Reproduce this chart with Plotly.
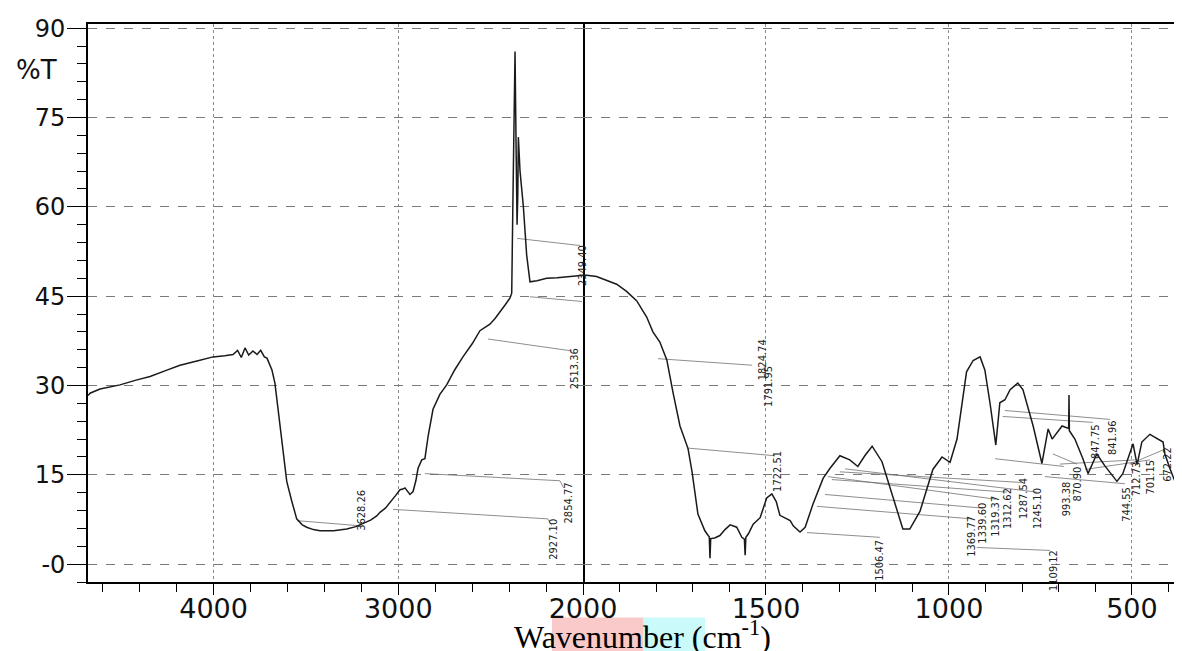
import plotly.graph_objects as go

# ---------------- spectrum data (wavenumber cm-1, %T) ----------------
wn_left = [4680, 4669, 4615, 4507, 4420, 4344, 4260, 4182, 4090, 4003, 3940, 3895, 3870, 3850,
           3830, 3810, 3787, 3765, 3745, 3725, 3711, 3700, 3690, 3684, 3668, 3655, 3641, 3623,
           3604, 3577, 3550, 3520, 3496, 3460, 3424, 3350, 3279, 3230, 3191, 3150, 3117, 3099,
           3070, 3045, 3015, 2991, 2975, 2964, 2950, 2937, 2920, 2905, 2893, 2873, 2856, 2838,
           2812, 2775, 2738, 2695, 2650, 2600, 2558, 2530, 2504, 2475, 2449, 2420, 2395, 2386,
           2379, 2368, 2363, 2357, 2353, 2350, 2341, 2323, 2305, 2287, 2249, 2197, 2140, 2088,
           2040, 2000]
t_left = [28.3, 28.7, 29.4, 30.1, 30.9, 31.5, 32.5, 33.4, 34.1, 34.8, 35.0, 35.2, 35.9, 34.7,
          36.3, 35.1, 35.8, 35.2, 35.9, 34.8, 34.6, 33.8, 33.0, 32.6, 30.4, 27.0, 23.8, 18.3,
          13.9, 10.6, 7.6, 6.6, 6.2, 5.8, 5.6, 5.6, 5.9, 6.3, 6.8, 7.4, 8.1, 8.7,
          9.4, 10.3, 11.5, 12.5, 12.6, 12.8, 12.2, 11.7, 12.2, 14.0, 16.1, 17.5, 17.7, 21.6,
          26.0, 28.5, 30.1, 32.6, 34.8, 37.0, 39.2, 39.8, 40.3, 41.3, 42.3, 43.6, 44.7, 45.5,
          62.0, 86.1, 72.0, 57.0, 62.0, 71.7, 66.0, 60.1, 51.9, 47.4, 47.6, 48.0, 48.1, 48.3,
          48.4, 48.5]

wn_right = [2000, 1990, 1963, 1935, 1908, 1881, 1853, 1826, 1809, 1790, 1771, 1753, 1735, 1713,
            1702, 1686, 1667, 1658, 1655, 1653, 1651, 1640, 1626, 1612, 1598, 1580, 1566, 1559,
            1557, 1555, 1548, 1535, 1516, 1498, 1484, 1472, 1462, 1434, 1425, 1407, 1393, 1372,
            1344, 1325, 1298, 1271, 1249, 1230, 1210, 1183, 1156, 1126, 1107, 1079, 1044, 1019,
            997, 978, 952, 934, 915, 902, 888, 872, 861, 847, 833, 812, 798, 770, 746, 729, 718,
            691, 673, 672, 671, 656, 634, 620, 596, 574, 541, 525, 497, 486, 473, 451, 415, 410,
            396, 380, 374]
t_right = [48.5, 48.5, 48.3, 47.7, 47.0, 45.8, 44.2, 41.5, 39.0, 37.3, 34.3, 28.5, 23.2, 19.4,
           15.5, 8.4, 5.6, 4.8, 4.6, 1.0, 4.3, 4.4, 4.8, 5.8, 6.6, 6.2, 4.5, 4.2,
           1.5, 4.5, 5.1, 6.7, 7.8, 11.1, 11.8, 10.5, 8.2, 7.3, 6.4, 5.4, 6.2, 10.0,
           14.4, 16.1, 18.2, 17.5, 16.4, 18.2, 19.8, 17.2, 11.7, 5.9, 5.9, 8.9, 15.9, 18.0,
           17.1, 21.0, 32.3, 34.2, 34.8, 32.6, 27.1, 20.0, 27.1, 27.6, 29.3, 30.4, 29.3, 23.2,
           16.9, 22.7, 21.0, 23.2, 22.8, 28.4, 22.4, 21.0, 17.7, 15.2, 18.5, 16.5, 13.9, 15.2,
           20.2, 16.7, 20.5, 21.8, 20.5, 18.5, 16.0, 13.5, 13.0]

# ---------------- peak labels ----------------
lab_left_text = ["3628.26", "2927.10", "2854.77", "2513.36", "2349.40"]
lab_left_wn = [3197, 2157, 2081, 2049, 2006]
lab_left_t = [9.1, 4.1, 10.2, 32.9, 50.2]

lab_right_text = ["1824.74", "1791.95", "1722.51", "1506.47", "1369.77", "1339.60", "1319.37",
                  "1312.62", "1287.54", "1245.10", "1109.12", "993.38", "870.90", "847.75",
                  "841.96", "744.55", "712.73", "701.15", "672.22"]
lab_right_wn = [1511, 1495, 1467, 1189, 937, 907, 872, 842, 798, 760, 716, 680, 650, 601, 555,
                514, 489, 448, 405]
lab_right_t = [34.4, 29.9, 15.5, 0.7, 4.6, 6.8, 8.1, 9.4, 11.1, 9.4, -1.0, 10.9, 13.4, 20.5,
               21.3, 10.1, 14.4, 14.7, 16.8]

# leader lines (segments separated by None)
lead_left_wn = [3548, 3191, None, 3029, 2190, 2170, None, 2856, 2125, 2105, None,
                2514, 2060, None, 2357, 2016, None, 2287, 2005]
lead_left_t = [7.3, 6.4, None, 9.2, 7.6, 6.5, None, 15.2, 14.0, 12.8, None,
               37.8, 35.8, None, 54.7, 53.5, None, 44.9, 44.1]
lead_right_wn = [1795, 1538, None, 1716, 1475, None, 1388, 1189, None, 1361, 937, None,
                 1339, 907, None, 1331, 872, None, 1320, 842, None, 1298, 798, None,
                 1284, 760, None, 924, 724, None, 874, 686, None, 716, 650, None,
                 853, 607, None, 847, 560, None, 738, 519, None, 697, 492, None,
                 628, 451, None, 506, 410]
lead_right_t = [34.5, 33.4, None, 19.5, 18.2, None, 5.3, 4.5, None, 9.7, 7.6, None,
                11.7, 9.4, None, 14.7, 10.9, None, 14.2, 12.1, None, 15.5, 13.7, None,
                16.0, 12.1, None, 2.8, 2.3, None, 17.7, 16.4, None, 18.5, 16.8, None,
                24.8, 23.8, None, 25.8, 24.3, None, 14.7, 13.5, None, 16.8, 17.5, None,
                15.9, 17.5, None, 16.8, 19.3]

y_ticks = [0, 15, 30, 45, 60, 75, 90]
y_ticktext = ["-0", "15", "30", "45", "60", "75", "90"]
x_left_ticks = [4000, 3000]
x_right_ticks = [2000, 1500, 1000, 500]

# ---------------- figure ----------------
# the page body adds an 8 px offset; margins compensate so the plot lands where intended
OFF = 8
W, H = 1182, 651
PL, PR, PT, PB = 88, 1181, 15, 582          # target plot-area edges in page pixels
ML, MT = PL - OFF, PT - OFF
MR = W - (PR - OFF)
MB = H - (PB - OFF)
pw, ph = PR - PL, PB - PT
split = (583 - PL) / pw

fig = go.Figure()
common = dict(mode="lines", hoverinfo="skip", showlegend=False)
fig.add_trace(go.Scatter(x=lead_left_wn, y=lead_left_t, xaxis="x", yaxis="y",
                         line=dict(color="#707070", width=0.8), **common))
fig.add_trace(go.Scatter(x=lead_right_wn, y=lead_right_t, xaxis="x2", yaxis="y",
                         line=dict(color="#707070", width=0.8), **common))
fig.add_trace(go.Scatter(x=wn_left, y=t_left, xaxis="x", yaxis="y",
                         line=dict(color="#1a1a1a", width=1.5), **common))
fig.add_trace(go.Scatter(x=wn_right, y=t_right, xaxis="x2", yaxis="y",
                         line=dict(color="#1a1a1a", width=1.5), **common))

tickfont_x = dict(family="DejaVu Sans", size=27, color="#111111")
tickfont_y = dict(family="DejaVu Sans", size=24, color="#111111")
xcommon = dict(ticks="outside", ticklen=11, tickwidth=1.2, tickcolor="black",
               showline=True, linecolor="black", linewidth=1.5, mirror=True,
               showgrid=True, gridcolor="#8a8a8a", griddash="dot", gridwidth=1,
               zeroline=False, tickfont=tickfont_x, anchor="y", ticklabelstandoff=-9,
               ticklabeloverflow="allow")

fig.update_layout(
    width=W, height=H,
    margin=dict(l=ML, r=MR, t=MT, b=MB),
    paper_bgcolor="white", plot_bgcolor="white",
    hovermode=False,
    xaxis=dict(domain=[0, split], range=[4680, 2000], tickvals=x_left_ticks,
               ticktext=[str(v) for v in x_left_ticks],
               minor=dict(dtick=200, tick0=0, ticks="outside", ticklen=8,
                          tickcolor="black", showgrid=False),
               **xcommon),
    xaxis2=dict(domain=[split, 1], range=[2000, 366], tickvals=x_right_ticks,
                ticktext=[str(v) for v in x_right_ticks],
                minor=dict(dtick=100, tick0=0, ticks="outside", ticklen=8,
                           tickcolor="black", showgrid=False),
                **xcommon),
    yaxis=dict(range=[-3, 90.7], anchor="x", tickvals=y_ticks, ticktext=y_ticktext,
               ticks="outside", ticklen=19, tickwidth=1.2, tickcolor="black",
               minor=dict(dtick=3, tick0=0, ticks="outside", ticklen=9,
                          tickcolor="black", showgrid=False),
               showline=True, linecolor="black", linewidth=1.6, mirror=True,
               showgrid=True, gridcolor="#7a7a7a", griddash="dash", gridwidth=1,
               zeroline=False, tickfont=tickfont_y, ticklabelstandoff=-3,
               ticklabeloverflow="allow"),
)

ann = []
lab_font = dict(family="Liberation Sans Narrow, DejaVu Sans Condensed, sans-serif",
                size=11, color="#222222")
for txt, xv, yv in zip(lab_left_text, lab_left_wn, lab_left_t):
    ann.append(dict(x=xv, y=yv, xref="x", yref="y", text=txt, textangle=-90,
                    showarrow=False, font=lab_font))
for txt, xv, yv in zip(lab_right_text, lab_right_wn, lab_right_t):
    ann.append(dict(x=xv, y=yv, xref="x2", yref="y", text=txt, textangle=-90,
                    showarrow=False, font=lab_font))


def px(xpix):
    return (xpix - PL) / pw


def py(ypix):
    return (PB - ypix) / ph


ann.append(dict(x=px(36), y=py(62), xref="paper", yref="paper", text="%T",
                xanchor="center", yanchor="middle",
                showarrow=False, font=dict(family="DejaVu Sans", size=26, color="#111111")))
ann.append(dict(x=px(642), y=py(636), xref="paper", yref="paper",
                xanchor="center", yanchor="middle",
                text="Wavenumber (cm<sup>-1</sup>)", showarrow=False,
                font=dict(family="Liberation Serif", size=32, color="black")))
fig.update_layout(annotations=ann)

fig.update_layout(shapes=[
    dict(type="rect", xref="paper", yref="paper", x0=px(552), x1=px(643),
         y0=py(660), y1=py(618), fillcolor="rgb(250,202,202)", line=dict(width=0), layer="below"),
    dict(type="rect", xref="paper", yref="paper", x0=px(643), x1=px(705),
         y0=py(660), y1=py(618), fillcolor="rgb(202,250,250)", line=dict(width=0), layer="below"),
])

fig.write_html("out.html")
